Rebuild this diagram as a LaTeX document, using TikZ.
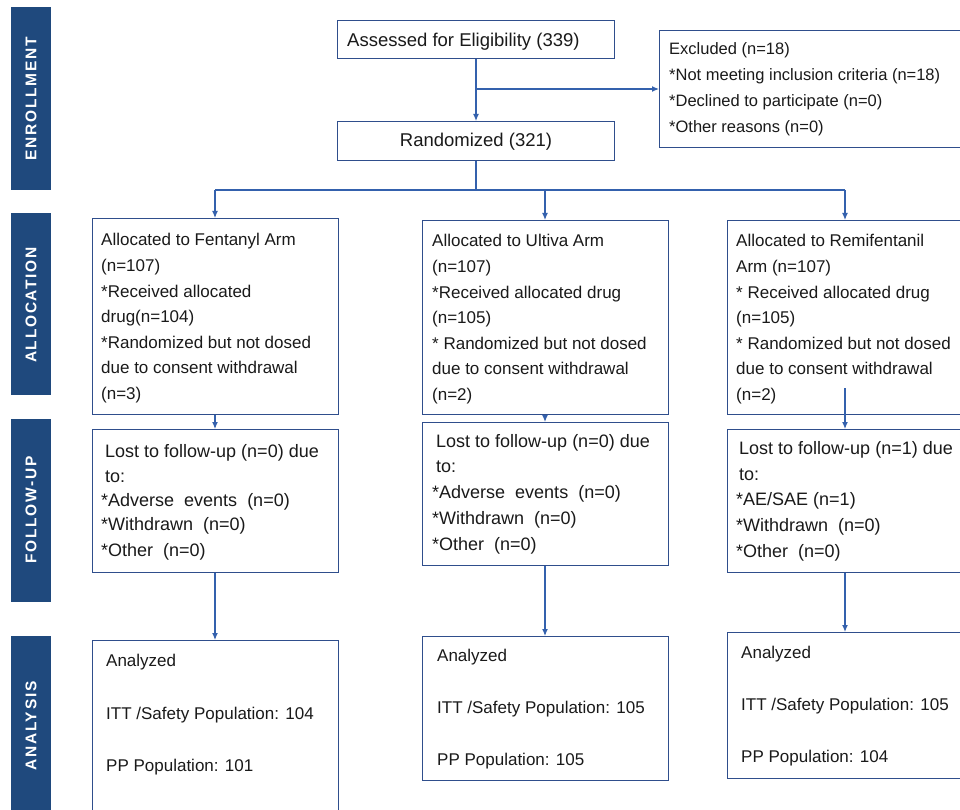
\documentclass[tikz,border=0pt]{standalone}
\usepackage{fontspec}
\setmainfont{Liberation Sans}
\newfontfamily\sidefont[LetterSpace=11]{Liberation Sans}
\usetikzlibrary{arrows.meta}
\definecolor{barblue}{HTML}{1F497D}
\definecolor{bordblue}{HTML}{2F4E8C}
\definecolor{arrblue}{HTML}{3461AD}
\definecolor{txtcol}{HTML}{1A1A1A}
\begin{document}
\begin{tikzpicture}[x=1pt,y=-1pt,
  boxst/.style={draw=bordblue, line width=1.4pt, rectangle, inner sep=0pt, anchor=north west, fill=white},
  sidebar/.style={fill=barblue, draw=none, rectangle, inner sep=0pt, anchor=north west, minimum width=40pt},
  sidetxt/.style={text=white, rotate=90, font=\sidefont\bfseries\fontsize{15.5}{17}\selectfont, inner sep=0pt},
  ln/.style={anchor=base west, inner sep=0pt, text=txtcol},
  topf/.style={font=\fontsize{18.5}{22}\selectfont},
  exf/.style={font=\fontsize{16.5}{20}\selectfont},
  alf/.style={font=\fontsize{17}{20}\selectfont},
  fuf/.style={font=\fontsize{18}{20}\selectfont},
  anf/.style={font=\fontsize{17}{20}\selectfont},
  conn/.style={draw=arrblue, line width=1.2pt},
  arr/.style={conn, -{Latex[length=7pt,width=6pt]}}
]
\clip (0,0) rectangle (960,810);
\fill[white] (0,0) rectangle (960,810);

% sidebars
\node[sidebar, minimum height=183pt] (sb1) at (11,7) {};
\node[sidebar, minimum height=182pt] (sb2) at (11,213) {};
\node[sidebar, minimum height=183pt] (sb3) at (11,419) {};
\node[sidebar, minimum height=180pt] (sb4) at (11,636) {};
\node[sidetxt] (st1) at (31,99) {ENROLLMENT};
\node[sidetxt] (st2) at (31,305) {ALLOCATION};
\node[sidetxt] (st3) at (31,510) {FOLLOW-UP};
\node[sidetxt] (st4) at (31,726) {ANALYSIS};

% boxes
\node[boxst, minimum width=277pt, minimum height=38pt] (assess) at (337,20) {};
\node[boxst, minimum width=277pt, minimum height=39pt] (rand) at (337,121) {};
\node[boxst, minimum width=304pt, minimum height=117pt] (excl) at (659,30) {};
\node[boxst, minimum width=246pt, minimum height=196pt] (fal) at (92,218) {};
\node[boxst, minimum width=246pt, minimum height=194pt] (ual) at (422,220) {};
\node[boxst, minimum width=236pt, minimum height=194pt] (ral) at (727,220) {};
\node[boxst, minimum width=246pt, minimum height=143pt] (ffu) at (92,429) {};
\node[boxst, minimum width=246pt, minimum height=143pt] (ufu) at (422,422) {};
\node[boxst, minimum width=236pt, minimum height=143pt] (rfu) at (727,429) {};
\node[boxst, minimum width=246pt, minimum height=180pt] (fan) at (92,640) {};
\node[boxst, minimum width=246pt, minimum height=144pt] (uan) at (422,636) {};
\node[boxst, minimum width=236pt, minimum height=146pt] (ran) at (727,632) {};

% texts
\node[ln, topf] (t1) at (347,47) {Assessed for Eligibility (339)};
\node[ln, topf, anchor=base] (t2) at (476,147) {Randomized (321)};
\foreach \t [count=\i] in {{Excluded (n=18)},{*Not meeting inclusion criteria (n=18)},{*Declined to participate (n=0)},{*Other reasons (n=0)}}
  \node[ln, exf, name=ex\i] at (669,{54.5+26*(\i-1)}) {\t};
\foreach \t [count=\i] in {{Allocated to Fentanyl Arm},{(n=107)},{*Received allocated},{drug(n=104)},{*Randomized but not dosed},{due to consent withdrawal},{(n=3)}}
  \node[ln, alf, name=fa\i] at (101,{246+25.5*(\i-1)}) {\t};
\foreach \t [count=\i] in {{Allocated to Ultiva Arm},{(n=107)},{*Received allocated drug},{(n=105)},{* Randomized but not dosed},{due to consent withdrawal},{(n=2)}}
  \node[ln, alf, name=ua\i] at (432,{247+25.5*(\i-1)}) {\t};
\foreach \t [count=\i] in {{Allocated to Remifentanil},{Arm (n=107)},{* Received allocated drug},{(n=105)},{* Randomized but not dosed},{due to consent withdrawal},{(n=2)}}
  \node[ln, alf, name=ra\i] at (736,{247+25.5*(\i-1)}) {\t};

\node[ln, fuf] (ff1) at (105,457) {Lost to follow-up (n=0) due};
\node[ln, fuf] (ff2) at (105,482) {to:};
\node[ln, fuf] (ff3) at (101,506) {*Adverse~ events~ (n=0)};
\node[ln, fuf] (ff4) at (101,530) {*Withdrawn~ (n=0)};
\node[ln, fuf] (ff5) at (101,556) {*Other~ (n=0)};

\node[ln, fuf] (uf1) at (436,447) {Lost to follow-up (n=0) due};
\node[ln, fuf] (uf2) at (436,472) {to:};
\node[ln, fuf] (uf3) at (432,498) {*Adverse~ events~ (n=0)};
\node[ln, fuf] (uf4) at (432,524) {*Withdrawn~ (n=0)};
\node[ln, fuf] (uf5) at (432,550) {*Other~ (n=0)};

\node[ln, fuf] (rf1) at (739,454) {Lost to follow-up (n=1) due};
\node[ln, fuf] (rf2) at (739,480) {to:};
\node[ln, fuf] (rf3) at (736,505) {*AE/SAE (n=1)};
\node[ln, fuf] (rf4) at (736,531) {*Withdrawn~ (n=0)};
\node[ln, fuf] (rf5) at (736,557) {*Other~ (n=0)};

\node[ln, anf] (fn1) at (106,666) {Analyzed};
\node[ln, anf] (fn2) at (106,719) {ITT /Safety Population: 104};
\node[ln, anf] (fn3) at (106,771) {PP Population: 101};
\node[ln, anf] (un1) at (437,661) {Analyzed};
\node[ln, anf] (un2) at (437,713) {ITT /Safety Population: 105};
\node[ln, anf] (un3) at (437,765) {PP Population: 105};
\node[ln, anf] (rn1) at (741,658) {Analyzed};
\node[ln, anf] (rn2) at (741,710) {ITT /Safety Population: 105};
\node[ln, anf] (rn3) at (741,762) {PP Population: 104};

% connectors
\coordinate (br) at (476,89);
\coordinate (split) at (476,190);
\coordinate (fsp) at (215,190);
\coordinate (usp) at (545,190);
\coordinate (rsp) at (845,190);
\coordinate (rin) at (845,388);

\draw[arr] (assess.south -| br) -- (rand.north -| br);
\draw[arr] (br) -- (excl.west |- br);
\draw[conn] (rand.south -| split) -- (split);
\draw[conn] (fsp) -- (rsp);
\draw[arr] (fsp) -- (fal.north -| fsp);
\draw[arr] (usp) -- (ual.north -| usp);
\draw[arr] (rsp) -- (ral.north -| rsp);

\draw[arr] (fal.south -| fsp) -- (ffu.north -| fsp);
\draw[arr] (ual.south -| usp) -- (ufu.north -| usp);
\draw[arr] (rin) -- (rfu.north -| rin);

\draw[arr] (ffu.south -| fsp) -- (fan.north -| fsp);
\draw[arr] (ufu.south -| usp) -- (uan.north -| usp);
\draw[arr] (rfu.south -| rin) -- (ran.north -| rin);
\end{tikzpicture}
\end{document}
